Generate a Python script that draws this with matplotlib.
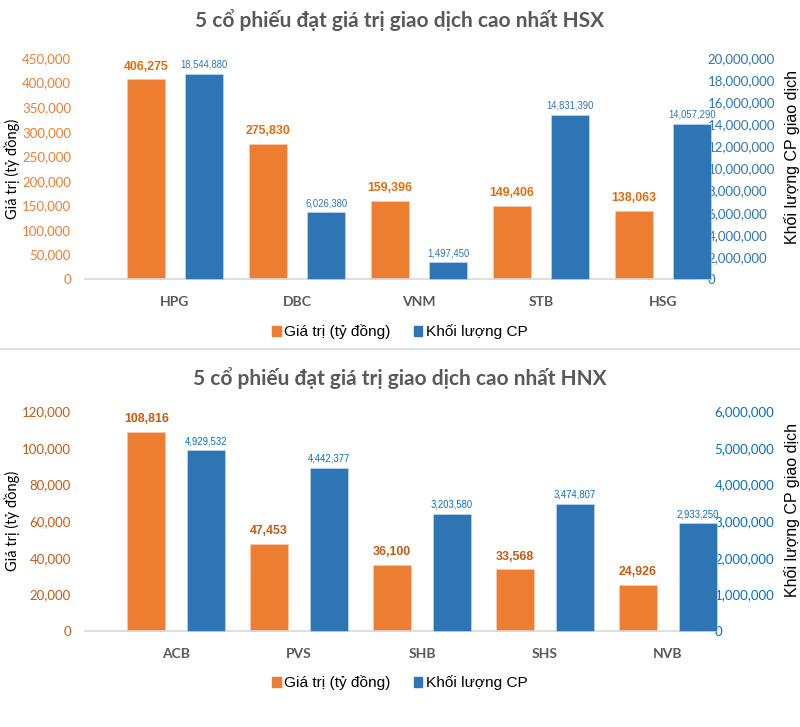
import numpy as np
import matplotlib
matplotlib.use("Agg")
import matplotlib.pyplot as plt
import matplotlib.ticker as ticker
from matplotlib import font_manager
from matplotlib.patches import Patch
from matplotlib.lines import Line2D

## DATA ##
HSX_CODES = ["HPG", "DBC", "VNM", "STB", "HSG"]
HSX_VALUE = [406275, 275830, 159396, 149406, 138063]
HSX_VOLUME = [18544880, 6026380, 1497450, 14831390, 14057290]

HNX_CODES = ["ACB", "PVS", "SHB", "SHS", "NVB"]
HNX_VALUE = [108816, 47453, 36100, 33568, 24926]
HNX_VOLUME = [4929532, 4442377, 3203580, 3474807, 2933250]

TITLE_HSX = "5 cổ phiếu đạt giá trị giao dịch cao nhất HSX"
TITLE_HNX = "5 cổ phiếu đạt giá trị giao dịch cao nhất HNX"
LABEL_LEFT = "Giá trị (tỷ đồng)"
LABEL_RIGHT = "Khối lượng CP giao dịch"
LEGEND_LABELS = ["Giá trị (tỷ đồng)", "Khối lượng CP"]

## STYLE ##
ORANGE = "#ED7D31"
BLUE = "#2E75B6"
GRAY = "#595959"

_names = {f.name for f in font_manager.fontManager.ttflist}
NARROW = "Liberation Sans Narrow" if "Liberation Sans Narrow" in _names else "Liberation Sans"
NARROW_SCALE = 1.0 if NARROW == "Liberation Sans Narrow" else 0.85
HUMAN = ["Lato", "DejaVu Sans"]
ARIAL = ["Liberation Sans", "DejaVu Sans"]

W, H = 800, 727
fig = plt.figure(figsize = (W / 100, H / 100), dpi = 100)


def px_box(left, top, right, bottom):
	return [left / W, 1 - bottom / H, (right - left) / W, (bottom - top) / H]


def draw_panel(box, codes, values, volumes, ymax, ystep, y2max, y2step,
		offset, xlim, left_col, right_col, val_col, vol_col, title, title_y,
		legend_y, left_label_y, right_label_y):
	ax = fig.add_axes(box)
	ax2 = ax.twinx()
	x = np.arange(len(codes))
	width = 0.31

	bars1 = ax.bar(x - offset, values, width, color = ORANGE, clip_on = False,
		edgecolor = "#F8CBAD", linewidth = 0.5, zorder = 2)
	bars2 = ax2.bar(x + offset, volumes, width, color = BLUE, clip_on = False,
		edgecolor = "#BDD7EE", linewidth = 0.5, zorder = 2)

	ax.set_xlim(*xlim)
	ax.set_ylim(0, ymax)
	ax2.set_ylim(0, y2max)
	ax.set_yticks(np.arange(0, ymax + 1, ystep))
	ax2.set_yticks(np.arange(0, y2max + 1, y2step))
	fmt = ticker.FuncFormatter(lambda v, pos: f"{v:,.0f}")
	ax.yaxis.set_major_formatter(fmt)
	ax2.yaxis.set_major_formatter(fmt)

	for a in (ax, ax2):
		for side in ("top", "left", "right"):
			a.spines[side].set_visible(False)
		a.spines["bottom"].set_color("#D9D9D9")
		a.spines["bottom"].set_linewidth(1.2)
	ax2.spines["bottom"].set_visible(False)

	ax.tick_params(axis = "y", length = 0, pad = 10, labelcolor = left_col,
		labelsize = 9.5)
	ax2.tick_params(axis = "y", length = 0, pad = 9, labelcolor = right_col,
		labelsize = 9.5)
	for lab in ax.get_yticklabels() + ax2.get_yticklabels():
		lab.set_family(HUMAN)

	ax.set_xticks(x)
	ax.set_xticklabels(codes, family = HUMAN, fontweight = "bold", color = GRAY,
		fontsize = 10)
	ax.tick_params(axis = "x", length = 0, pad = 12)

	for rect, v in zip(bars1, values):
		ax.annotate(f"{v:,}", xy = (rect.get_x() + rect.get_width() / 2, v),
			xytext = (0, 5), textcoords = "offset points", ha = "center",
			va = "bottom", color = val_col, fontweight = "bold",
			family = NARROW, fontsize = 10.5 * NARROW_SCALE)
	for rect, v in zip(bars2, volumes):
		ax2.annotate(f"{v:,}", xy = (rect.get_x() + rect.get_width() / 2, v),
			xytext = (0, 3), textcoords = "offset points", ha = "center",
			va = "bottom", color = vol_col, family = NARROW,
			fontsize = 8.1 * NARROW_SCALE, annotation_clip = False)

	fig.text(12 / W, 1 - left_label_y / H, LABEL_LEFT, rotation = 90,
		ha = "center", va = "center", family = HUMAN, fontsize = 10.5)
	fig.text(792 / W, 1 - right_label_y / H, LABEL_RIGHT, rotation = 90,
		ha = "center", va = "center", family = ARIAL, fontsize = 11.5)

	fig.text(0.5, 1 - title_y / H, title, ha = "center", va = "center",
		family = HUMAN, fontweight = "bold", color = GRAY, fontsize = 15)

	handles = [Patch(color = ORANGE), Patch(color = BLUE)]
	fig.legend(handles, LEGEND_LABELS, loc = "center",
		bbox_to_anchor = (0.5, 1 - legend_y / H), ncol = 2, frameon = False,
		handlelength = 0.55, handleheight = 0.55, handletextpad = 0.25,
		columnspacing = 1.5, prop = {"family": NARROW,
		"size": 13 * NARROW_SCALE})
	return ax


# HSX panel
draw_panel(px_box(85, 58, 695, 279), HSX_CODES, HSX_VALUE, HSX_VOLUME,
	450000, 50000, 20000000, 2000000, 0.238, (-0.738, 4.262),
	"#ED7D31", "#2E75B6", "#E46C0A", "#2E75B6", TITLE_HSX, 20, 332, 169, 157)

# HNX panel
draw_panel(px_box(85, 411, 702, 631), HNX_CODES, HNX_VALUE, HNX_VOLUME,
	120000, 20000, 6000000, 1000000, 0.244, (-0.744, 4.28),
	"#C55A11", "#0070C0", "#C55A11", "#0070C0", TITLE_HNX, 378, 683, 521, 510)

# separator
fig.add_artist(Line2D([0, 1], [1 - 349 / H, 1 - 349 / H], color = "#D9D9D9",
	linewidth = 1.2, transform = fig.transFigure))

fig.savefig("out.png", dpi = 100)
